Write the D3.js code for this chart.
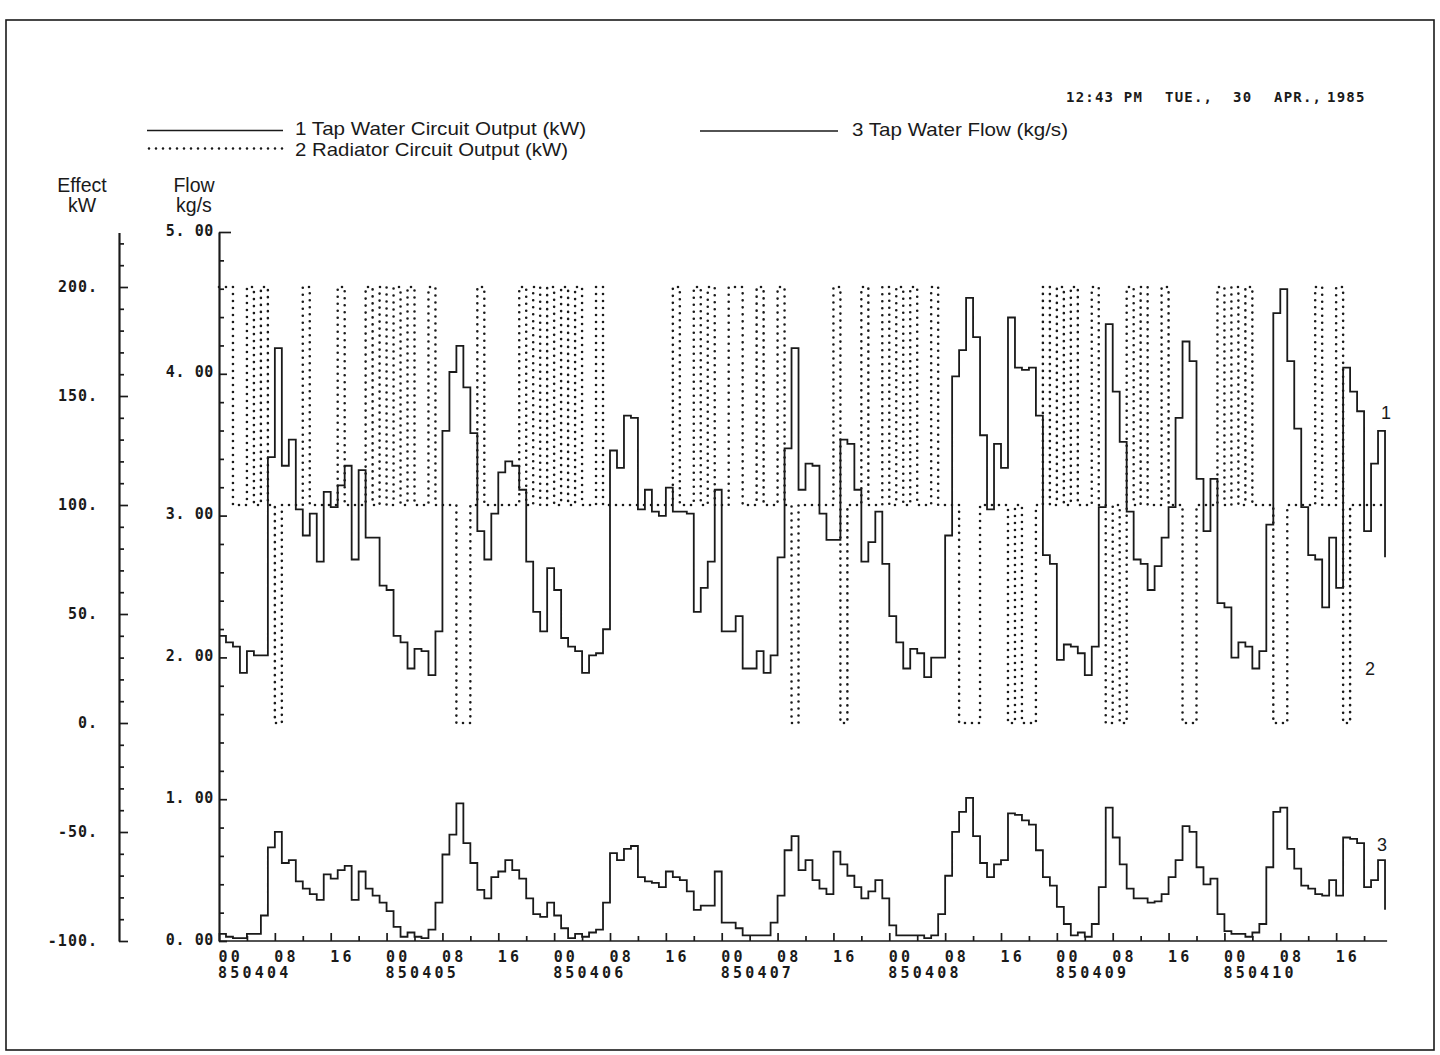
<!DOCTYPE html>
<html lang="en">
<head>
<meta charset="UTF-8">
<title>Tap water and radiator circuit output, 850404 - 850410</title>
<script src="https://cdn.jsdelivr.net/npm/d3@7"></script>
<style>
  body { margin: 0; background: #fff; }
  svg { display: block; }
</style>
</head>
<body>
<svg width="1440" height="1055"></svg>
<script>
// hourly readings, 850404 00h .. 850410 22h
const days = ["850404", "850405", "850406", "850407", "850408", "850409", "850410"];
const hourLabels = ["00", "08", "16"];
const effectTicks = [-100, -50, 0, 50, 100, 150, 200];
const flowTicks = [0, 1, 2, 3, 4, 5];

// 1 Tap Water Circuit Output (kW)
const tapOutput = [
  40, 37, 35, 23, 33, 31, 31, 122, 172, 118, 130, 98, 86, 96, 74, 106, 99, 109, 118, 75,
  116, 85, 85, 63, 61, 40, 37, 25, 34, 33, 22, 42, 134, 161, 173, 154, 133, 88, 75, 96,
  115, 120, 118, 107, 74, 51, 42, 71, 61, 39, 35, 33, 23, 31, 32, 43, 125, 117, 141, 140,
  98, 107, 97, 95, 108, 97, 97, 96, 51, 62, 74, 107, 42, 42, 49, 25, 25, 33, 23, 31,
  76, 126, 172, 107, 119, 118, 96, 84, 84, 130, 128, 107, 74, 83, 97, 73, 49, 37, 25, 34,
  32, 21, 30, 30, 86, 159, 171, 195, 177, 132, 98, 128, 117, 186, 163, 162, 163, 141, 77, 73,
  29, 36, 35, 32, 22, 35, 99, 183, 152, 129, 97, 75, 73, 61, 72, 85, 99, 140, 175, 166,
  112, 88, 112, 55, 53, 30, 37, 35, 25, 33, 91, 188, 199, 166, 135, 99, 77, 75, 53, 85,
  62, 163, 152, 143, 88, 119, 134
];
const tapOutputEnd = 76;

// 2 Radiator Circuit Output (kW)
const radiatorOutput = [
  200, 200, 100, 100, 200, 100, 200, 100, 0, 100, 100, 100, 200, 100, 100, 100, 100, 200, 100, 100,
  100, 200, 100, 200, 100, 200, 100, 200, 100, 100, 200, 100, 100, 100, 0, 0, 100, 200, 100, 100,
  100, 100, 100, 200, 100, 200, 100, 200, 100, 200, 100, 200, 100, 100, 200, 100, 100, 100, 100, 100,
  100, 100, 100, 100, 100, 200, 100, 100, 200, 100, 200, 100, 100, 200, 200, 100, 100, 200, 100, 100,
  200, 100, 0, 100, 100, 100, 100, 100, 200, 0, 100, 100, 200, 100, 100, 200, 100, 200, 100, 200,
  100, 100, 200, 100, 100, 100, 0, 0, 0, 100, 100, 100, 100, 0, 100, 0, 0, 100, 200, 100,
  200, 100, 200, 100, 100, 200, 100, 0, 100, 0, 200, 100, 200, 100, 100, 200, 100, 100, 0, 0,
  100, 100, 100, 200, 100, 200, 100, 200, 100, 100, 100, 0, 0, 100, 100, 100, 100, 200, 100, 100,
  200, 0, 100, 100, 100, 100, 100
];
const radiatorEnd = 100;

// 3 Tap Water Flow (kg/s)
const tapFlow = [
  0.05, 0.03, 0.02, 0.02, 0.05, 0.05, 0.18, 0.66, 0.77, 0.55, 0.57, 0.42, 0.37, 0.33, 0.29, 0.47, 0.44, 0.50, 0.53, 0.29,
  0.49, 0.37, 0.32, 0.27, 0.21, 0.10, 0.03, 0.06, 0.03, 0.02, 0.08, 0.27, 0.61, 0.75, 0.97, 0.69, 0.55, 0.36, 0.30, 0.45,
  0.49, 0.57, 0.50, 0.44, 0.30, 0.19, 0.17, 0.27, 0.18, 0.09, 0.02, 0.05, 0.03, 0.06, 0.08, 0.27, 0.62, 0.57, 0.65, 0.67,
  0.45, 0.42, 0.41, 0.38, 0.49, 0.45, 0.43, 0.35, 0.22, 0.25, 0.25, 0.49, 0.13, 0.13, 0.09, 0.04, 0.04, 0.04, 0.04, 0.13,
  0.32, 0.64, 0.74, 0.50, 0.57, 0.43, 0.37, 0.33, 0.63, 0.54, 0.46, 0.38, 0.30, 0.35, 0.43, 0.30, 0.11, 0.04, 0.04, 0.04,
  0.04, 0.02, 0.04, 0.19, 0.46, 0.77, 0.91, 1.01, 0.74, 0.55, 0.45, 0.54, 0.57, 0.90, 0.89, 0.85, 0.82, 0.64, 0.45, 0.39,
  0.24, 0.12, 0.04, 0.06, 0.03, 0.12, 0.38, 0.94, 0.73, 0.54, 0.37, 0.30, 0.30, 0.27, 0.28, 0.33, 0.45, 0.57, 0.81, 0.77,
  0.52, 0.40, 0.44, 0.19, 0.07, 0.05, 0.05, 0.03, 0.06, 0.12, 0.52, 0.91, 0.94, 0.65, 0.51, 0.39, 0.37, 0.33, 0.32, 0.43,
  0.32, 0.73, 0.72, 0.69, 0.38, 0.43, 0.57
];
const tapFlowEnd = 0.22;

const ink = "#1a1a1a";
const mono = "'DejaVu Sans Mono', monospace";
const sans = "'Liberation Sans', Arial, sans-serif";

const svg = d3.select("svg");

const x = d3.scaleLinear().domain([0, 168]).range([219, 1392]);
const effect = d3.scaleLinear().domain([-100, 225]).range([941, 232.5]);
const flow = d3.scaleLinear().domain([0, 5]).range([941, 232]);

// page frame
svg.append("rect")
    .attr("x", 6).attr("y", 20)
    .attr("width", 1428).attr("height", 1030)
    .attr("fill", "none").attr("stroke", ink).attr("stroke-width", 1.6);

function styleAxis(g) {
  g.attr("font-family", mono).attr("font-size", 15).attr("font-weight", "bold");
  g.selectAll("path, line").attr("stroke", ink).attr("stroke-width", 1.7);
  g.selectAll("text").attr("fill", ink);
}

// Effect kW axis
svg.append("g")
    .attr("transform", "translate(119,0)")
    .call(d3.axisLeft(effect)
        .tickValues(d3.range(-90, 221, 10).filter(v => v % 50 !== 0))
        .tickSize(-5).tickSizeOuter(0).tickFormat(""))
    .call(styleAxis);
svg.append("g")
    .attr("transform", "translate(119,0)")
    .call(d3.axisLeft(effect)
        .tickValues(effectTicks)
        .tickSize(-9).tickSizeOuter(0).tickPadding(21)
        .tickFormat(d => d + "."))
    .call(styleAxis)
    .call(g => g.selectAll("text").attr("letter-spacing", 1));

// Flow kg/s axis
svg.append("g")
    .attr("transform", "translate(219,0)")
    .call(d3.axisLeft(flow)
        .tickValues(d3.range(1, 25).filter(v => v % 5 !== 0).map(v => v / 5))
        .tickSize(-5).tickSizeOuter(0).tickFormat(""))
    .call(styleAxis);
svg.append("g")
    .attr("transform", "translate(219,0)")
    .call(d3.axisLeft(flow)
        .tickValues(flowTicks)
        .tickSize(-8).tickSizeOuter(0).tickPadding(5)
        .tickFormat(d => d.toFixed(2).replace(".", ". ")))
    .call(styleAxis)
    .call(g => g.selectAll("text").attr("letter-spacing", 0.6).attr("dy", "0.2em").style("white-space", "pre"))
    .call(g => g.selectAll(".tick").filter(d => d === 5).select("line").attr("x2", 12));

// time axis
svg.append("g")
    .attr("transform", "translate(0,941)")
    .call(d3.axisBottom(x)
        .tickValues(d3.range(4, 168, 8))
        .tickSize(-5).tickSizeOuter(0).tickFormat(""))
    .call(styleAxis)
    .call(g => g.select(".domain").remove());
svg.append("g")
    .attr("transform", "translate(0,941)")
    .call(d3.axisBottom(x)
        .tickValues(d3.range(0, 168, 8))
        .tickSize(-8).tickSizeOuter(0).tickPadding(10)
        .tickFormat(h => hourLabels[(h % 24) / 8]))
    .call(styleAxis)
    .call(g => g.select(".domain").attr("d", `M${x(0)},0H${x(167.3)}`))
    .call(g => g.selectAll("text").attr("text-anchor", "start").attr("dx", -1).attr("letter-spacing", 3.2));

svg.append("g")
    .selectAll("text")
    .data(days)
    .join("text")
    .attr("x", (d, i) => x(i * 24) - 1)
    .attr("y", 978)
    .attr("font-family", mono).attr("font-size", 15).attr("font-weight", "bold")
    .attr("letter-spacing", 3.2)
    .attr("fill", ink)
    .text(d => d);

// traces
const stepLine = yScale => d3.line()
    .curve(d3.curveStepAfter)
    .x((d, i) => x(i))
    .y(d => yScale(d));

svg.append("path")
    .attr("d", stepLine(effect)(radiatorOutput.concat([radiatorEnd])))
    .attr("fill", "none").attr("stroke", ink)
    .attr("stroke-width", 2.6).attr("stroke-linecap", "round")
    .attr("stroke-dasharray", "0 7");

svg.append("path")
    .attr("d", stepLine(effect)(tapOutput.concat([tapOutputEnd])))
    .attr("fill", "none").attr("stroke", ink).attr("stroke-width", 1.8);

svg.append("path")
    .attr("d", stepLine(flow)(tapFlow.concat([tapFlowEnd])))
    .attr("fill", "none").attr("stroke", ink).attr("stroke-width", 1.8);

// trace numbers at the right end
const numbers = svg.append("g").attr("font-family", sans).attr("font-size", 18).attr("fill", ink);
numbers.append("text").attr("x", 1381).attr("y", 419).text("1");
numbers.append("text").attr("x", 1365).attr("y", 675).text("2");
numbers.append("text").attr("x", 1377).attr("y", 851).text("3");

// axis titles
const titles = svg.append("g").attr("font-family", sans).attr("font-size", 19.5)
    .attr("fill", ink).attr("text-anchor", "middle");
titles.append("text").attr("x", 82).attr("y", 192).text("Effect");
titles.append("text").attr("x", 82).attr("y", 212).text("kW");
titles.append("text").attr("x", 194).attr("y", 192).text("Flow");
titles.append("text").attr("x", 194).attr("y", 212).text("kg/s");

// legend
const legend = svg.append("g").attr("font-family", sans).attr("font-size", 18.5).attr("fill", ink);
legend.append("line").attr("x1", 147).attr("x2", 283).attr("y1", 130.5).attr("y2", 130.5)
    .attr("stroke", ink).attr("stroke-width", 1.6);
legend.append("line").attr("x1", 149).attr("x2", 283).attr("y1", 148.5).attr("y2", 148.5)
    .attr("stroke", ink).attr("stroke-width", 2.6).attr("stroke-linecap", "round")
    .attr("stroke-dasharray", "0 7");
legend.append("line").attr("x1", 700).attr("x2", 838).attr("y1", 131).attr("y2", 131)
    .attr("stroke", ink).attr("stroke-width", 1.6);
legend.append("text").attr("x", 295).attr("y", 135)
    .attr("textLength", 291).attr("lengthAdjust", "spacingAndGlyphs")
    .text("1 Tap Water Circuit Output (kW)");
legend.append("text").attr("x", 295).attr("y", 156)
    .attr("textLength", 273).attr("lengthAdjust", "spacingAndGlyphs")
    .text("2 Radiator Circuit Output (kW)");
legend.append("text").attr("x", 852).attr("y", 136)
    .attr("textLength", 216).attr("lengthAdjust", "spacingAndGlyphs")
    .text("3 Tap Water Flow (kg/s)");

// plot time stamp
const stamp = svg.append("g").attr("font-family", mono).attr("font-size", 14)
    .attr("font-weight", "bold").attr("letter-spacing", 1.2).attr("fill", ink);
stamp.append("text").attr("x", 1066).attr("y", 102).text("12:43 PM");
stamp.append("text").attr("x", 1165).attr("y", 102).text("TUE.,");
stamp.append("text").attr("x", 1233).attr("y", 102).text("30");
stamp.append("text").attr("x", 1274).attr("y", 102).text("APR.,");
stamp.append("text").attr("x", 1327).attr("y", 102).text("1985");
</script>
</body>
</html>
